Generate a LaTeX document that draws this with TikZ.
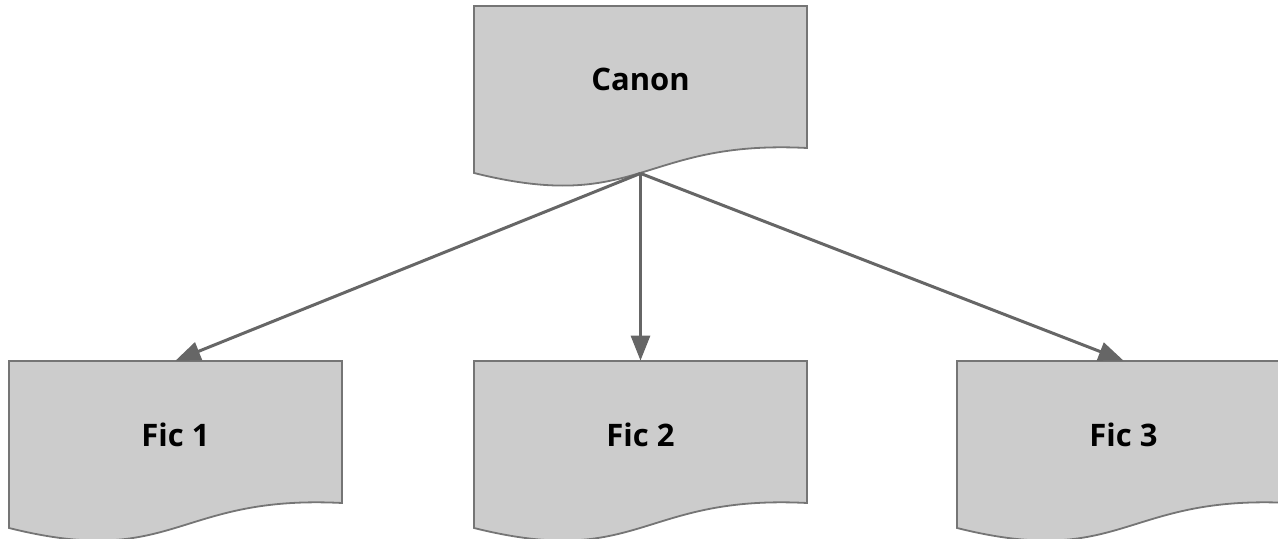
\documentclass[tikz,border=0pt]{standalone}
\usepackage{fontspec}
\setmainfont{Open Sans}
\usetikzlibrary{arrows.meta, positioning}
\definecolor{docfill}{HTML}{CCCCCC}
\definecolor{docline}{HTML}{757575}
\definecolor{arrowgray}{HTML}{666666}
% document shape round a node centre
\newcommand{\docshape}[2]{
	\begin{scope}[shift={(#1,#2)}]
		\filldraw[doc_fill_style] (-166.5,83.5) -- (166.5,83.5) -- (166.5,-58.5)
			.. controls (0,-50) and (0,-125) .. (-166.5,-83.5) -- cycle;
	\end{scope}
}

\begin{document}
\begin{tikzpicture}[x=0.5pt, y=0.5pt]
	\tikzstyle{doc_fill_style}=[fill=docfill, draw=docline, line width=0.9pt]
	\tikzstyle{doc_style}=[rectangle, minimum width=166.5pt, minimum height=83.5pt, inner sep=0pt]
	\tikzstyle{label_style}=[font=\bfseries\fontsize{15.5}{18}\selectfont, yshift=5pt]
	\tikzstyle{arrow_style}=[draw=arrowgray, line width=1.5pt, -{Triangle[width=9.5pt, length=12.5pt]}]
	\useasboundingbox (0,0) rectangle (1278,-539);
	\clip (0,0) rectangle (1278,-539);
	% canon
	\docshape{640.5}{-89.5}
	\node at (640.5, -89.5) [doc_style, label={[label_style]center:Canon}] (canon) {};
	% fics
	\foreach \x/\i in {175.5/1, 640.5/2, 1123.5/3} {
		\docshape{\x}{-444.5}
		\node at (\x, -444.5) [doc_style, label={[label_style]center:Fic \i}] (fic_\i) {};
	}
	% connect: canon -> fics
	\foreach \i in {1,...,3}
		\draw[arrow_style] (canon.south) -- (fic_\i.north);
\end{tikzpicture}
\end{document}
